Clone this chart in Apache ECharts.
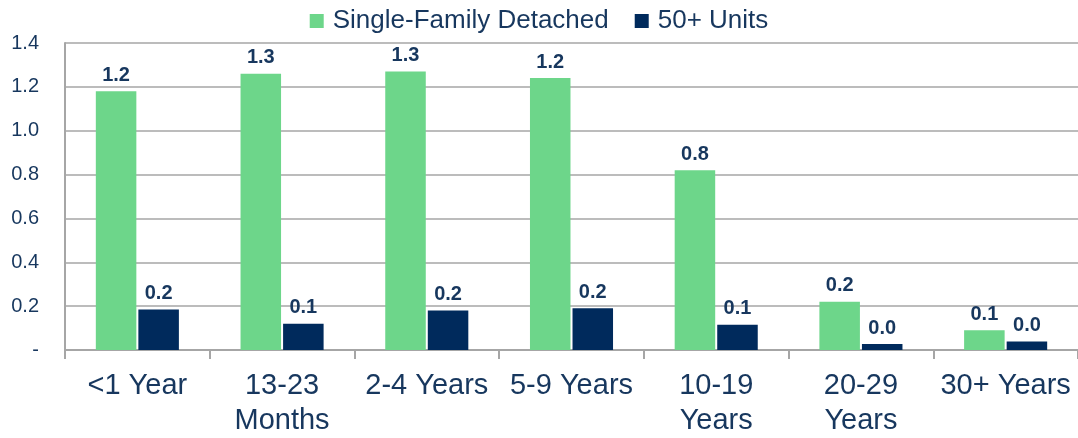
<!DOCTYPE html>
<html><head><meta charset="utf-8">
<script src="https://cdn.jsdelivr.net/npm/echarts@6/dist/echarts.min.js"></script>
<style>html,body{margin:0;padding:0;background:#fff}#c{width:1078px;height:438px}</style>
</head><body><div id="c"></div>
<script>
const categories = ['<1 Year', '13-23\nMonths', '2-4 Years', '5-9 Years', '10-19\nYears', '20-29\nYears', '30+ Years'];
const singleFamily = [1.18, 1.26, 1.27, 1.24, 0.82, 0.22, 0.09];
const units50 = [0.185, 0.12, 0.18, 0.19, 0.115, 0.027, 0.039];
const yTicks = ['-', '0.2', '0.4', '0.6', '0.8', '1.0', '1.2', '1.4'];

const navy = '#002A5C';
const green = '#6DD68A';
const textColor = '#17375E';
const labelStyle = {
  show: true, position: 'top', distance: 6, color: textColor,
  fontFamily: '"Liberation Sans", Arial, sans-serif',
  fontWeight: 'bold', fontSize: 20,
  formatter: p => p.value.toFixed(1)
};
const chart = echarts.init(document.getElementById('c'));
chart.setOption({
  animation: false,
  textStyle: { fontFamily: 'Liberation Sans, Arial, sans-serif' },
  legend: {
    top: 3, left: 'center',
    itemWidth: 14, itemHeight: 14, itemGap: 26,
    icon: 'rect',
    textStyle: { fontSize: 26, color: textColor, padding: [0, 0, 0, 4], fontFamily: 'Liberation Sans, Arial, sans-serif' },
    data: ['Single-Family Detached', '50+ Units']
  },
  grid: { left: 65, right: -2, top: 43, bottom: 86, containLabel: false },
  xAxis: {
    type: 'category', data: categories,
    axisLine: { lineStyle: { color: '#A6A6A6', width: 2 } },
    axisTick: { show: true, length: 9, lineStyle: { color: '#A6A6A6', width: 2 } },
    axisLabel: { fontSize: 29, color: textColor, lineHeight: 35, margin: 18, interval: 0 }
  },
  yAxis: {
    type: 'value', min: 0, max: 1.4, interval: 0.2,
    axisLine: { show: true, lineStyle: { color: '#A6A6A6', width: 2 } },
    axisTick: { show: false },
    splitLine: { lineStyle: { color: '#A6A6A6', width: 1.5 } },
    axisLabel: {
      fontSize: 20, color: textColor, margin: 26,
      formatter: (v) => yTicks[Math.round(v / 0.2)]
    }
  },
  series: [
    { name: 'Single-Family Detached', type: 'bar', data: singleFamily, barWidth: '28%', barGap: '5%',
      itemStyle: { color: green }, label: labelStyle },
    { name: '50+ Units', type: 'bar', data: units50, barWidth: '28%', barGap: '5%',
      itemStyle: { color: navy }, label: labelStyle }
  ]
});
</script></body></html>
